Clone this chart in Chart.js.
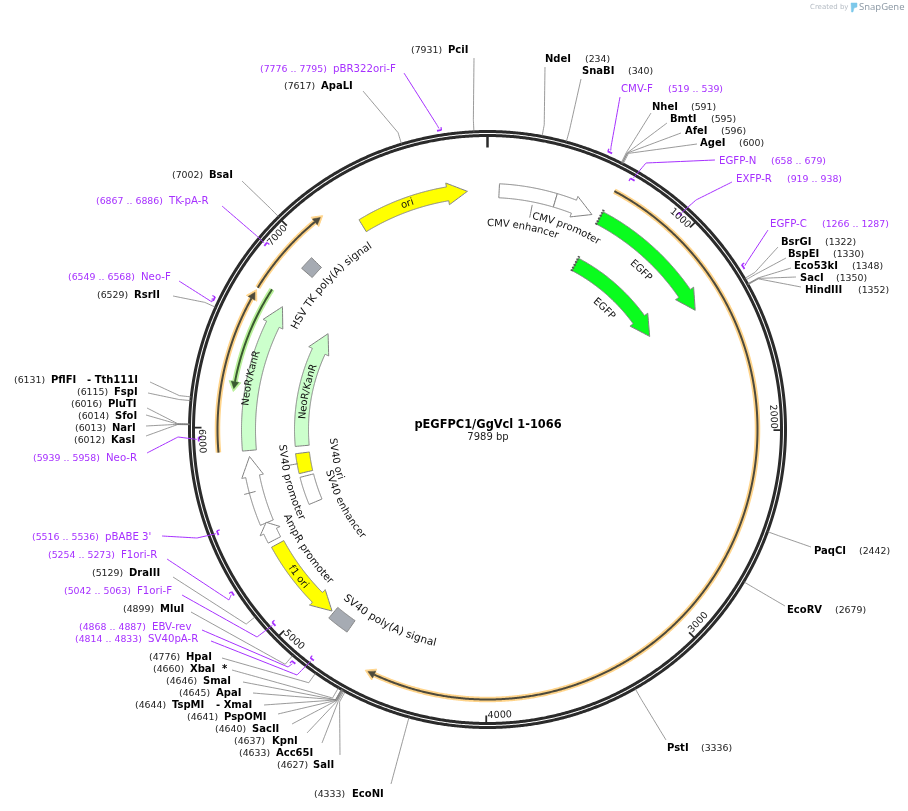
<!DOCTYPE html>
<html>
<head>
<meta charset="utf-8">
<style>
  html, body { margin: 0; padding: 0; background: #fff; }
  canvas { display: block; }
</style>
<script src="https://cdn.jsdelivr.net/npm/chart.js@4/dist/chart.umd.js"></script>
</head>
<body>
<canvas id="map" width="908" height="811"></canvas>
<script>
// plasmid
const plasmidName = 'pEGFPC1/GgVcl 1-1066';
const plasmidLength = 7989;
const tickValues = [1000, 2000, 3000, 4000, 5000, 6000, 7000];

// restriction sites
const siteNames = ['PciI', 'NdeI', 'SnaBI', 'NheI', 'BmtI', 'AfeI', 'AgeI', 'BsrGI', 'BspEI', 'Eco53kI', 'SacI', 'HindIII',
  'PaqCI', 'EcoRV', 'PstI', 'EcoNI', 'SalI', 'Acc65I', 'KpnI', 'SacII', 'PspOMI', 'TspMI', 'ApaI', 'SmaI', 'XbaI', 'HpaI',
  'MluI', 'DraIII', 'KasI', 'NarI', 'SfoI', 'PluTI', 'FspI', 'PflFI', 'RsrII', 'BsaI', 'ApaLI'];
const siteBp = [7931, 234, 340, 591, 595, 596, 600, 1322, 1330, 1348, 1350, 1352,
  2442, 2679, 3336, 4333, 4627, 4633, 4637, 4640, 4641, 4644, 4645, 4646, 4660, 4776,
  4899, 5129, 6012, 6013, 6014, 6016, 6115, 6131, 6529, 7002, 7617];
const siteExtras = { TspMI: '- XmaI', PflFI: '- Tth111I', XbaI: '*' };

// primers
const primerNames = ['pBR322ori-F', 'CMV-F', 'EGFP-N', 'EXFP-R', 'EGFP-C', 'TK-pA-R', 'Neo-F', 'Neo-R', "pBABE 3'", 'F1ori-R', 'F1ori-F', 'EBV-rev', 'SV40pA-R'];
const primerStart = [7776, 519, 658, 919, 1266, 6867, 6549, 5939, 5516, 5254, 5042, 4868, 4814];
const primerEnd = [7795, 539, 679, 938, 1287, 6886, 6568, 5958, 5536, 5273, 5063, 4887, 4833];
const primerForward = [true, true, false, false, true, false, true, false, false, true, false, true, false];

// features, from tail to tip
const featureNames = ['ori', 'CMV promoter', 'EGFP', 'EGFP', 'NeoR/KanR', 'NeoR/KanR', 'SV40 promoter', 'AmpR promoter', 'f1 ori'];
const featureFrom = [7290, 366, 619, 619, 5880, 5880, 5484, 5384, 5357];
const featureTo = [7882, 575, 1335, 1335, 6678, 6680, 5848, 5487, 4895];
const boxNames = ['CMV enhancer', 'HSV TK poly(A) signal', 'SV40 ori', 'SV40 enhancer', 'SV40 poly(A) signal'];
const boxFrom = [62, 6900, 5699, 5486, 4765];
const boxTo = [366, 6975, 5832, 5674, 4884];

// translated ORF lines just inside the backbone
const orfFrom = [622, 5883, 6695, 6725];
const orfTo = [4578, 6670, 7140, 6195];

// ---- layout, in page pixels ----
const cx = 487.5, cy = 429.5;
const ringR = 296;
const siteLayout = { // name x, y, number x, leader end x, leader end y
  PciI: [448, 50, 411, 474, 58], NdeI: [545, 59, 585, 545, 67], SnaBI: [582, 71, 628, 581, 79],
  NheI: [652, 107, 691, 651, 113], BmtI: [670, 119, 711, 667, 123], AfeI: [685, 131, 721, 681, 133], AgeI: [700, 143, 739, 697, 144],
  BsrGI: [781, 242, 825, 778, 247], BspEI: [788, 254, 833, 786, 258], Eco53kI: [794, 266, 852, 791, 268],
  SacI: [800, 278, 836, 796, 277], HindIII: [805, 290, 858, 801, 287],
  PaqCI: [814, 551, 859, 811, 547], EcoRV: [787, 610, 835, 785, 606], PstI: [667, 748, 701, 666, 740],
  EcoNI: [352, 794, 314, 391, 784], SalI: [313, 765, 277, 340, 755], Acc65I: [276, 753, 239, 322, 743],
  KpnI: [272, 741, 234, 307, 733], SacII: [252, 729, 215, 292, 724], PspOMI: [224, 717, 187, 278, 714],
  TspMI: [172, 705, 135, 264, 705], ApaI: [216, 693, 179, 253, 693], SmaI: [203, 681, 166, 243, 682],
  XbaI: [190, 669, 153, 232, 670], HpaI: [186, 657, 149, 222, 658], MluI: [160, 609, 123, 191, 612],
  DraIII: [129, 573, 92, 173, 577], KasI: [111, 440, 74, 146, 436], NarI: [112, 428, 75, 146, 426],
  SfoI: [115, 416, 78, 146, 415], PluTI: [108, 404, 71, 147, 408], FspI: [114, 392, 77, 148, 393],
  PflFI: [51, 380, 14, 150, 382], RsrII: [134, 295, 97, 173, 296], BsaI: [209, 175, 172, 242, 181], ApaLI: [321, 86, 284, 363, 91]
};
const siteExtraX = { TspMI: 216, PflFI: 87, XbaI: 222 };
const primerLayout = { // name x, y, range x, leader end x, y, knee x, y
  'pBR322ori-F': [333, 69, 260, 404, 73, 437, 125], 'CMV-F': [621, 89, 668, 620, 97, 611, 147],
  'EGFP-N': [719, 161, 771, 715, 160, 646, 163], 'EXFP-R': [736, 179, 787, 732, 182, 696, 200],
  'EGFP-C': [770, 224, 822, 768, 230, 747, 262], 'TK-pA-R': [169, 201, 96, 222, 206, 258, 237],
  'Neo-F': [141, 277, 68, 179, 281, 212, 302], 'Neo-R': [106, 458, 33, 147, 453, 178, 437],
  "pBABE 3'": [105, 537, 32, 162, 536, 197, 538], 'F1ori-R': [121, 555, 48, 167, 559, 229, 600],
  'F1ori-F': [137, 591, 64, 182, 595, 257, 637], 'EBV-rev': [152, 627, 79, 202, 630, 288, 667],
  'SV40pA-R': [148, 639, 75, 211, 641, 297, 675]
};
// radius of each feature's centre line, then colour
const featureR = [239, 239, 239.5, 187, 239, 186, 239.5, 240, 239];
const featureFill = ['#ffff00', '#ffffff', '#0afc1e', '#0afc1e', '#ccffcc', '#ccffcc', '#ffffff', '#ffffff', '#ffff00'];
const boxR = [239, 239, 186.5, 186.5, 239.5];
const boxFill = ['#ffffff', '#a6abb3', '#ffff00', '#ffffff', '#a6abb3'];
const orfR = [270, 270, 270, 257];
const orfHalo = ['#ffd48a', '#ffd48a', '#ffd48a', '#b9f09a'];
const orfCore = ['#4d4a3c', '#4d4a3c', '#4d4a3c', '#3a5a30'];
const arcLabels = [ // text, bp at text centre, radius, font size
  ['ori', 7555, 239.5, 10], ['CMV enhancer', 222, 206, 10], ['CMV promoter', 473, 218, 10], ['EGFP', 976, 221, 10], ['EGFP', 976, 168, 10],
  ['NeoR/KanR', 6263, 243, 10], ['NeoR/KanR', 6255, 185, 10], ['HSV TK poly(A) signal', 6938, 218, 10.6], ['SV40 ori', 5748, 155, 10],
  ['SV40 enhancer', 5377, 164, 10], ['SV40 promoter', 5659, 206, 10.3], ['AmpR promoter', 5245, 218.5, 10.3], ['SV40 poly(A) signal', 4594, 220, 10.6], ['f1 ori', 5150, 240, 10]
];
const calloutLines = [[250, 229, 216], [5765, 193, 203], [5660, 240, 252]]; // bp, from radius, to radius
const dottedTails = [[619, 239.5], [619, 187]]; // bp, radius

const BOLD = 'bold 10px "DejaVu Sans"';
const NUM = '9.4px "DejaVu Sans"';
const PURPLE = '#a630ff';

function polar(bp, r) {
  const a = bp / plasmidLength * 2 * Math.PI;
  return { x: cx + r * Math.sin(a), y: cy - r * Math.cos(a) };
}
function arcPoints(from, to, r) {
  const n = Math.max(2, Math.ceil(Math.abs(to - from) / plasmidLength * 720));
  const pts = [];
  for (let i = 0; i <= n; i++) pts.push(polar(from + (to - from) * i / n, r));
  return pts;
}
function pxToBp(px, r) { return px / (2 * Math.PI * r) * plasmidLength; }

// arrow outline going from tail (from) to tip (to)
function arrowShape(from, to, r, half, headHalf, headPx) {
  const dir = to > from ? 1 : -1;
  const headBp = Math.min(pxToBp(headPx, r), Math.abs(to - from) / 2);
  const base = to - dir * headBp;
  return [...arcPoints(from, base, r + half), polar(base, r + headHalf), polar(to, r), polar(base, r - headHalf),
    ...arcPoints(base, from, r - half), polar(from, r + half)];
}
function boxShape(from, to, r, half) {
  return [...arcPoints(from, to, r + half), ...arcPoints(to, from, r - half), polar(from, r + half)];
}

const layers = [];
// tiny tension keeps Chart.js off its fast path, which snaps steep lines to whole pixels
function line(points, color, width, extra) {
  layers.push(Object.assign({ data: points, showLine: true, tension: 0.0001, borderColor: color, borderWidth: width, pointRadius: 0, fill: false }, extra || {}));
}
function shape(points, fill, edge, width) {
  line(points, edge, width, { fill: 'shape', backgroundColor: fill, borderJoinStyle: 'miter' });
}

// backbone
line(arcPoints(0, plasmidLength, ringR + 2), '#2b2b2b', 3);
line(arcPoints(0, plasmidLength, ringR - 2), '#2b2b2b', 3);
line([polar(0, ringR - 2), polar(0, ringR - 14)], '#2b2b2b', 2.5);
tickValues.forEach(v => line([polar(v, ringR - 2), polar(v, ringR - 10)], '#2b2b2b', 1.8));

// enzyme leaders
siteNames.forEach((name, i) => {
  const l = siteLayout[name];
  line([polar(siteBp[i], ringR + 2), polar(siteBp[i], 310), { x: l[3], y: l[4] }], 'rgba(120,120,120,0.75)', 1);
});

// primers
primerNames.forEach((name, i) => {
  const l = primerLayout[name];
  const mid = (primerStart[i] + primerEnd[i]) / 2;
  const r = primerForward[i] ? 303 : 289;
  line([{ x: l[3], y: l[4] }, { x: l[5], y: l[6] }, polar(mid, primerForward[i] ? 305 : 291)], PURPLE, 1);
  line(arcPoints(primerStart[i], primerEnd[i], r), PURPLE, 1.8, { borderCapStyle: 'butt' });
  // little barb on the end nearest the top of the circle
  const theta = mid / plasmidLength * 360;
  const barb = (theta < 180) ? primerStart[i] : primerEnd[i];
  line([polar(barb, r), polar(barb, r + (primerForward[i] ? 3 : -3))], PURPLE, 1.2, { borderCapStyle: 'butt' });
});

// ORF lines
orfFrom.forEach((from, i) => {
  const dir = orfTo[i] > from ? 1 : -1;
  const base = orfTo[i] - dir * pxToBp(7, orfR[i]);
  line(arcPoints(from, base, orfR[i]), orfHalo[i], 5.5, { borderCapStyle: 'butt' });
  shape([polar(base, orfR[i] + 6), polar(orfTo[i] + dir * pxToBp(3, orfR[i]), orfR[i]), polar(base, orfR[i] - 6), polar(base, orfR[i] + 6)], orfHalo[i], orfHalo[i], 1);
  line(arcPoints(from, base, orfR[i]), orfCore[i], 2);
  shape([polar(base, orfR[i] + 3.8), polar(orfTo[i], orfR[i]), polar(base, orfR[i] - 3.8), polar(base, orfR[i] + 3.8)], orfCore[i], orfCore[i], 0.5);
});

// features
boxNames.forEach((name, i) => {
  shape(boxShape(boxFrom[i], boxTo[i], boxR[i], 7), boxFill[i], '#808080', 1);
});
featureNames.forEach((name, i) => {
  shape(arrowShape(featureFrom[i], featureTo[i], featureR[i], 7, 11, 20), featureFill[i], '#808080', 1);
});
dottedTails.forEach(t => {
  line([polar(t[0], t[1] + 9), polar(t[0], t[1] - 9)], '#555', 2.5, { borderDash: [1.5, 1.5] });
});
calloutLines.forEach(c => line([polar(c[0], c[1]), polar(c[0], c[2])], '#808080', 1));

// SnapGene mark, top right
shape([{ x: 851, y: 3 }, { x: 857, y: 3 }, { x: 857, y: 7 }, { x: 854, y: 8 }, { x: 853, y: 12 }, { x: 851.5, y: 12 }, { x: 851, y: 3 }], '#7cc8ea', '#7cc8ea', 0.5);

// all text goes on top, through the scales
const textPlugin = {
  id: 'mapText',
  afterDatasetsDraw(chart) {
    const ctx = chart.ctx;
    const sx = chart.scales.x, sy = chart.scales.y;
    const put = (text, x, y, font, color) => {
      ctx.font = font;
      ctx.fillStyle = color;
      ctx.textAlign = 'left';
      ctx.textBaseline = 'middle';
      ctx.fillText(text, sx.getPixelForValue(x), sy.getPixelForValue(y));
    };
    // text bent along the circle
    const bent = (text, bp, r, font, color) => {
      ctx.font = font;
      ctx.fillStyle = color;
      ctx.textAlign = 'center';
      ctx.textBaseline = 'middle';
      const theta = bp / plasmidLength * 360;
      const lower = theta > 90 && theta <= 270;
      const total = ctx.measureText(text).width;
      let run = -total / 2;
      for (const ch of text) {
        const w = ctx.measureText(ch).width;
        const off = (run + w / 2) / (r * Math.PI / 180) * (lower ? -1 : 1);
        const t = theta + off;
        const p = polar(t / 360 * plasmidLength, r);
        ctx.save();
        ctx.translate(sx.getPixelForValue(p.x), sy.getPixelForValue(p.y));
        ctx.rotate((lower ? t - 180 : t) * Math.PI / 180);
        ctx.fillText(ch, 0, 0);
        ctx.restore();
        run += w;
      }
    };

    ctx.save();
    siteNames.forEach((name, i) => {
      const l = siteLayout[name];
      put(name, l[0], l[1], BOLD, '#000');
      put('(' + siteBp[i] + ')', l[2], l[1] + 0.5, NUM, '#222');
      if (siteExtras[name]) put(siteExtras[name], siteExtraX[name], l[1], BOLD, '#000');
    });
    primerNames.forEach((name, i) => {
      const l = primerLayout[name];
      put(name, l[0], l[1], '10.2px "DejaVu Sans"', PURPLE);
      put('(' + primerStart[i] + ' .. ' + primerEnd[i] + ')', l[2], l[1] + 0.5, NUM, PURPLE);
    });
    tickValues.forEach(v => {
      bent(String(v), v - pxToBp(13.5, 286), 286, '9.6px "DejaVu Sans"', '#222');
    });
    arcLabels.forEach(a => bent(a[0], a[1], a[2], a[3] + 'px "DejaVu Sans"', '#111'));

    ctx.textAlign = 'center';
    ctx.textBaseline = 'middle';
    ctx.font = 'bold 11.4px "DejaVu Sans"';
    ctx.fillStyle = '#000';
    ctx.fillText(plasmidName, sx.getPixelForValue(488), sy.getPixelForValue(425));
    ctx.font = '10px "DejaVu Sans"';
    ctx.fillStyle = '#222';
    ctx.fillText(plasmidLength + ' bp', sx.getPixelForValue(488), sy.getPixelForValue(437));

    // credit, top right
    ctx.textAlign = 'left';
    ctx.font = '7px "DejaVu Sans"';
    ctx.fillStyle = '#b5bcc4';
    ctx.fillText('Created by', sx.getPixelForValue(810), sy.getPixelForValue(7.5));
    ctx.font = '9.5px "Open Sans"';
    ctx.fillStyle = '#8a97a3';
    ctx.fillText('SnapGene', sx.getPixelForValue(859), sy.getPixelForValue(7.5));
    ctx.restore();
  }
};

layers.forEach((d, i) => { d.order = layers.length - i; });

new Chart(document.getElementById('map'), {
  type: 'scatter',
  data: { datasets: layers },
  options: {
    responsive: false,
    animation: false,
    devicePixelRatio: 1,
    layout: { padding: 0 },
    plugins: { legend: { display: false }, tooltip: { enabled: false } },
    scales: {
      x: { type: 'linear', min: 0, max: 908, display: false },
      y: { type: 'linear', min: 0, max: 811, reverse: true, display: false }
    }
  },
  plugins: [textPlugin]
});
</script>
</body>
</html>
